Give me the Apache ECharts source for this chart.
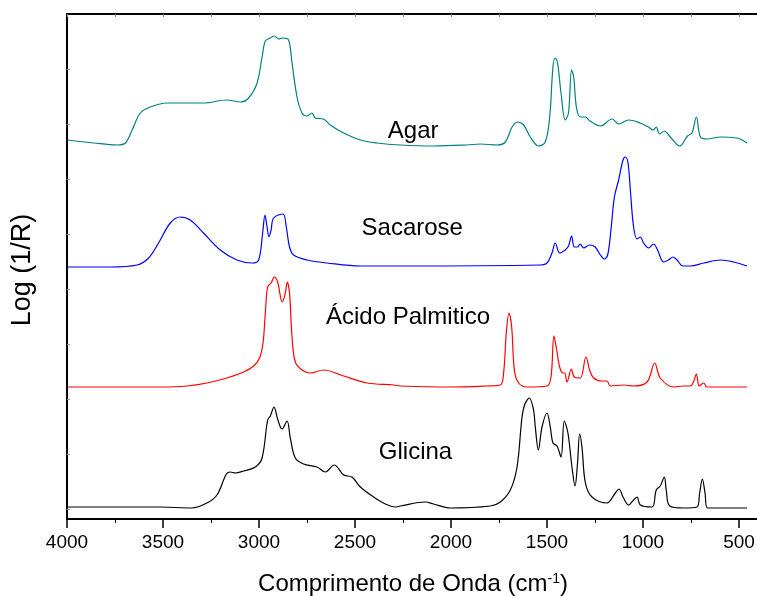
<!DOCTYPE html>
<html>
<head>
<meta charset="utf-8">
<script src="https://cdn.jsdelivr.net/npm/echarts@6/dist/echarts.min.js"></script>
<style>
  html, body { margin: 0; padding: 0; background: #fff; }
  #chart { width: 757px; height: 596px; }
</style>
</head>
<body>
<div id="chart"></div>
<script>
// NIR spectra, stacked with vertical offsets. Wavenumber in cm-1, Log(1/R) in arbitrary units.
const agarWn = [3997,3861,3740,3696,3661,3618,3566,3479,3289,3167,3097,3054,3010,2984,2967,2941,2920,2898,2875,2846,2828,2802,2776,2750,2724,2707,2664,2629,2559,2472,2385,2264,2091,1917,1847,1760,1717,1682,1653,1622,1587,1544,1509,1486,1469,1457,1445,1427,1405,1388,1372,1361,1347,1327,1300,1276,1222,1161,1127,1075,1014,971,948,931,914,889,858,809,768,745,722,701,667,597,510,484,458];
const agarVal = [3.79,3.76,3.74,3.76,3.89,4.06,4.12,4.16,4.16,4.19,4.17,4.21,4.36,4.62,4.78,4.81,4.83,4.80,4.81,4.79,4.56,4.22,4.06,4.03,4.06,4.01,4.00,3.94,3.86,3.79,3.76,3.74,3.73,3.74,3.75,3.74,3.77,3.92,3.97,3.94,3.82,3.73,3.77,4.02,4.52,4.61,4.56,4.26,3.99,4.06,4.49,4.42,4.12,4.02,4.02,3.98,3.93,4.00,3.95,3.99,3.96,3.92,3.89,3.92,3.85,3.88,3.82,3.73,3.83,3.86,4.02,3.82,3.80,3.82,3.81,3.79,3.76];

const sacaroseWn = [3997,3775,3635,3575,3523,3462,3410,3358,3289,3202,3115,3036,3002,2981,2969,2958,2948,2937,2924,2875,2858,2841,2820,2750,2646,2472,2264,1535,1500,1474,1457,1434,1405,1388,1372,1358,1341,1327,1309,1278,1249,1222,1201,1184,1167,1149,1127,1104,1092,1078,1066,1049,1031,1014,997,971,945,924,893,867,844,823,792,754,684,597,528,458];
const sacaroseVal = [2.52,2.52,2.54,2.61,2.76,2.96,3.02,2.99,2.86,2.69,2.59,2.56,2.59,2.86,3.04,2.92,2.82,2.89,3.01,3.05,2.92,2.72,2.64,2.59,2.56,2.53,2.53,2.54,2.56,2.66,2.76,2.66,2.69,2.73,2.83,2.72,2.72,2.75,2.71,2.74,2.72,2.64,2.60,2.64,2.89,3.22,3.39,3.59,3.62,3.56,3.29,2.92,2.80,2.82,2.76,2.71,2.75,2.69,2.57,2.59,2.62,2.59,2.53,2.53,2.56,2.59,2.57,2.53];

const palmiticoWn = [3997,3514,3375,3271,3167,3080,3028,2997,2979,2967,2955,2937,2920,2903,2879,2863,2853,2841,2828,2811,2776,2733,2664,2559,2437,2299,2264,2004,1813,1743,1726,1712,1698,1684,1670,1648,1604,1500,1479,1464,1452,1434,1417,1408,1396,1373,1358,1327,1297,1278,1257,1214,1188,1170,1101,1049,979,939,910,840,789,754,737,722,707,684,667,458];
const palmiticoVal = [1.32,1.32,1.33,1.36,1.41,1.47,1.53,1.61,1.76,2.06,2.32,2.36,2.42,2.37,2.17,2.26,2.37,2.26,1.82,1.57,1.49,1.46,1.49,1.43,1.36,1.34,1.33,1.32,1.33,1.34,1.46,1.86,2.06,1.92,1.49,1.36,1.32,1.33,1.42,1.83,1.72,1.52,1.46,1.46,1.37,1.50,1.42,1.41,1.62,1.49,1.41,1.38,1.38,1.33,1.34,1.33,1.37,1.56,1.41,1.32,1.33,1.33,1.37,1.45,1.33,1.36,1.32,1.32];

const glicinaWn = [3997,3514,3349,3271,3219,3170,3150,3123,3080,3019,2984,2955,2941,2922,2903,2880,2854,2837,2811,2768,2698,2655,2608,2559,2516,2472,2403,2342,2290,2264,2134,2091,2004,1795,1743,1691,1656,1630,1615,1592,1570,1561,1545,1526,1500,1483,1469,1448,1427,1410,1391,1370,1354,1341,1330,1318,1300,1266,1188,1144,1125,1104,1075,1049,1031,1014,953,931,910,889,879,861,789,719,705,691,677,664,458];
const glicinaVal = [0.12,0.12,0.11,0.16,0.24,0.45,0.47,0.46,0.48,0.52,0.61,0.99,1.03,1.12,1.00,0.90,0.98,0.81,0.61,0.55,0.52,0.47,0.54,0.44,0.42,0.32,0.22,0.15,0.12,0.13,0.17,0.15,0.11,0.13,0.17,0.29,0.52,1.02,1.15,1.21,1.09,0.92,0.69,0.92,1.06,0.92,0.76,0.73,0.62,0.98,0.86,0.52,0.33,0.56,0.85,0.72,0.36,0.22,0.16,0.26,0.30,0.22,0.14,0.19,0.22,0.14,0.12,0.29,0.33,0.42,0.29,0.13,0.11,0.12,0.26,0.40,0.26,0.11,0.11];

// Sample names and where each name sits (wavenumber, Log(1/R))
const sampleNames = ['Agar', 'Sacarose', 'Ácido Palmitico', 'Glicina'];
const nameAnchors = [[2197, 3.88], [2202, 2.91], [2224, 2.02], [2185, 0.67]];
const sampleColors = ['#008080', '#0000ff', '#ff0000', '#000000'];

// Left-axis tick positions (Log(1/R) units)
const yTicks = [0.10, 0.65, 1.20, 1.75, 2.30, 2.85, 3.40, 3.95, 4.50];

const FONT = '"Liberation Sans", Arial, sans-serif';

function pairs(wn, val) {
  return wn.map((w, i) => [w, val[i]]);
}

const spectra = [
  pairs(agarWn, agarVal),
  pairs(sacaroseWn, sacaroseVal),
  pairs(palmiticoWn, palmiticoVal),
  pairs(glicinaWn, glicinaVal)
];

const chart = echarts.init(document.getElementById('chart'), null, { renderer: 'canvas' });

const series = spectra.map((d, i) => ({
  type: 'line',
  name: sampleNames[i],
  data: d,
  xAxisIndex: 0,
  yAxisIndex: 0,
  showSymbol: false,
  smooth: 0.35,
  clip: true,
  lineStyle: { color: sampleColors[i], width: 1.2 },
  emphasis: { disabled: true },
  markPoint: {
    silent: true,
    symbolSize: 0,
    data: [{
      coord: nameAnchors[i],
      label: {
        show: true,
        position: 'inside',
        formatter: sampleNames[i],
        color: '#000',
        fontSize: 24,
        fontFamily: FONT
      }
    }]
  }
}));

// The wavenumber scale runs 4000 -> 0; the visible window ends near 400 cm-1.
chart.setOption({
  animation: false,
  backgroundColor: '#fff',
  grid: { left: 67, top: 14, width: 768, height: 505, containLabel: false, outerBoundsMode: 'none' },
  xAxis: [{
    type: 'value',
    position: 'bottom',
    min: 0, max: 4000, interval: 500, inverse: true,
    axisLine: { show: true, onZero: false, lineStyle: { color: '#000', width: 2 } },
    axisTick: { show: true, inside: false, length: 9, lineStyle: { color: '#000', width: 1.5 } },
    minorTick: { show: true, splitNumber: 2, length: 4, lineStyle: { color: '#000', width: 1 } },
    splitLine: { show: false },
    axisLabel: {
      show: true, margin: 14, color: '#000', fontSize: 19, fontFamily: FONT,
      formatter: v => (v === 0 ? '' : String(v))
    }
  }, {
    type: 'value',
    position: 'top',
    min: 0, max: 4000, interval: 250, inverse: true,
    axisLine: { show: true, onZero: false, lineStyle: { color: '#000', width: 2 } },
    axisTick: { show: true, inside: true, length: 3, lineStyle: { color: '#888', width: 1 } },
    splitLine: { show: false },
    axisLabel: { show: false }
  }],
  yAxis: [{
    type: 'value',
    position: 'left',
    min: 0, max: 5.05,
    axisLine: { show: true, onZero: false, lineStyle: { color: '#000', width: 2 } },
    axisTick: { show: true, inside: true, length: 3, customValues: yTicks, lineStyle: { color: '#999', width: 1 } },
    splitLine: { show: false },
    axisLabel: { show: false }
  }],
  series: series,
  graphic: [{
    type: 'text',
    x: 413, y: 584,
    style: {
      text: '{m|Comprimento de Onda (cm}{s|-1}{m|)}',
      align: 'center', verticalAlign: 'middle',
      fill: '#000', font: '24px ' + FONT,
      rich: {
        m: { fontSize: 24, fontFamily: FONT, fill: '#000' },
        s: { fontSize: 14, fontFamily: FONT, fill: '#000', verticalAlign: 'top' }
      }
    },
    silent: true
  }, {
    type: 'text',
    x: 23, y: 270,
    rotation: Math.PI / 2,
    style: {
      text: 'Log (1/R)',
      align: 'center', verticalAlign: 'middle',
      fill: '#000', font: '27px ' + FONT
    },
    silent: true
  }]
});
</script>
</body>
</html>
